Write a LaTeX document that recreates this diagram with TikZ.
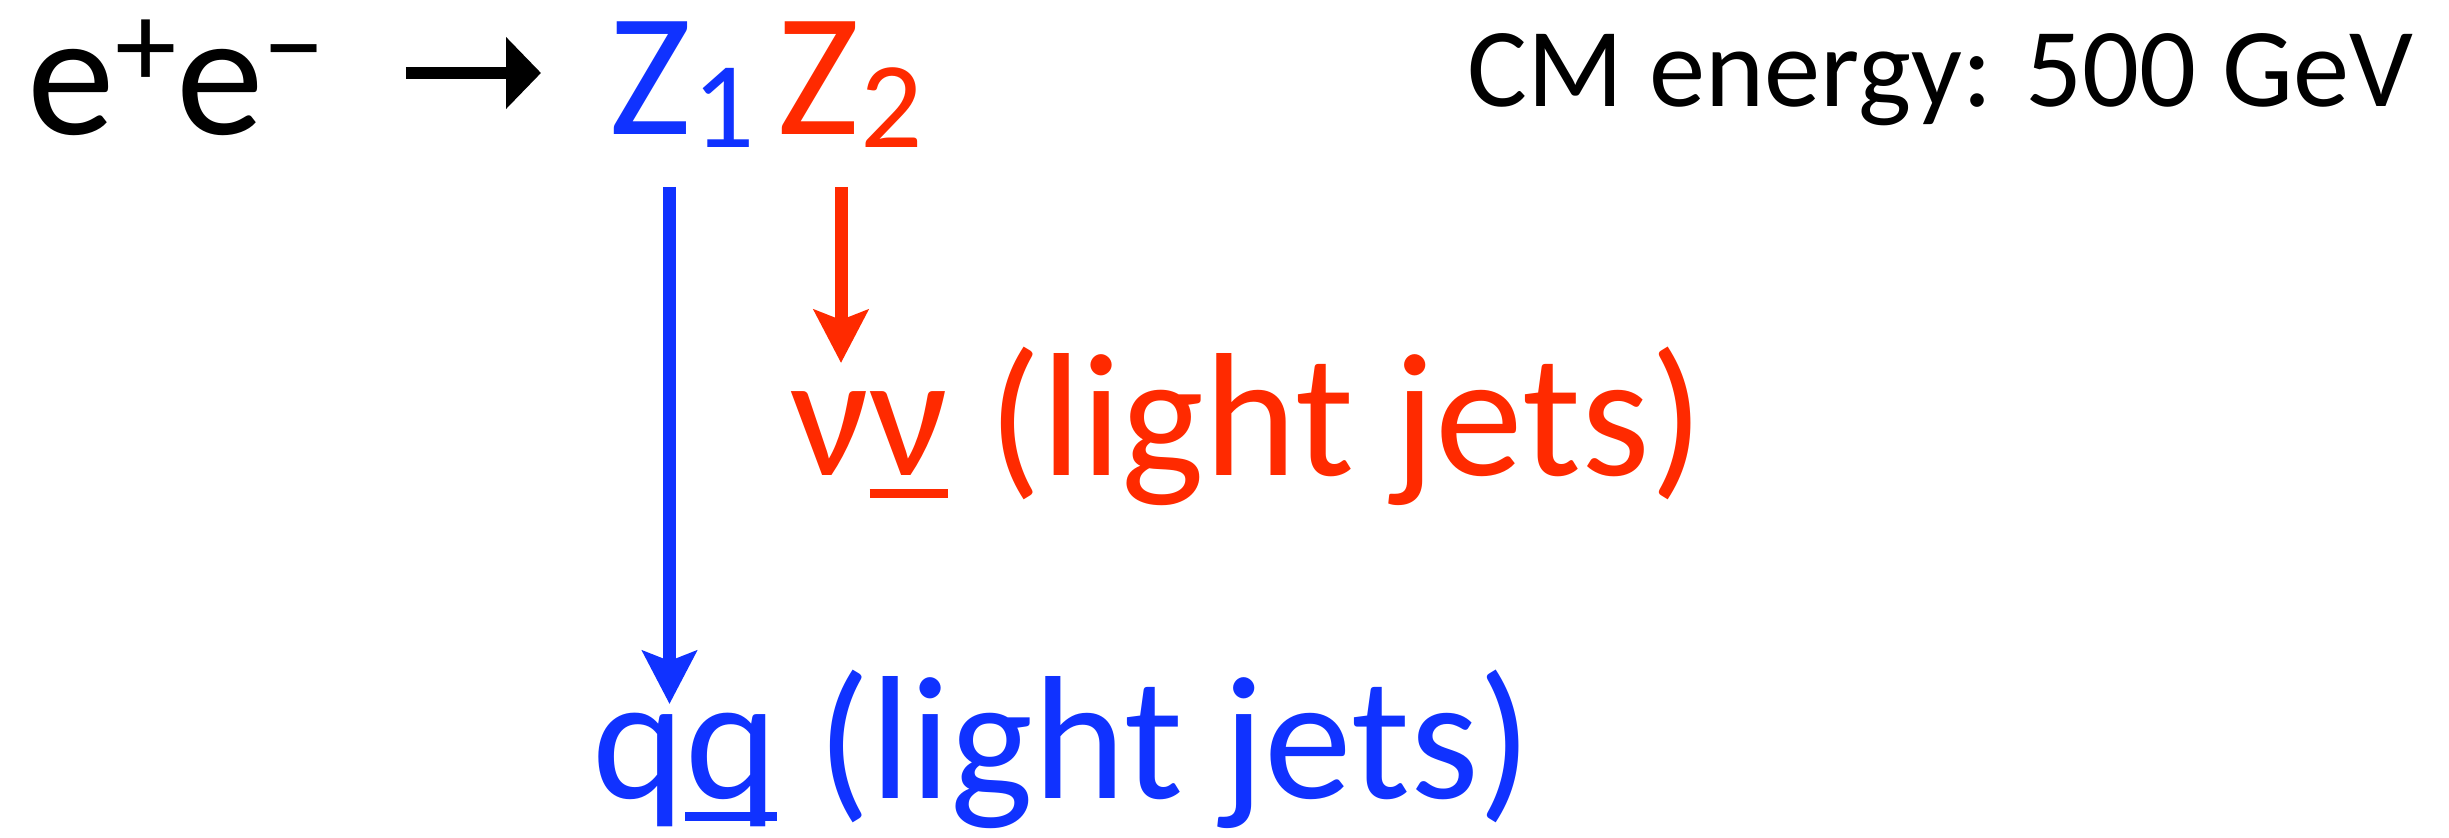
\documentclass[tikz,border=0pt]{standalone}
\usepackage{fontspec}
\setmainfont{Carlito}
\usetikzlibrary{arrows.meta,calc}
\definecolor{zblue}{RGB}{16,50,255}
\definecolor{zred}{RGB}{255,42,0}
\newcommand{\lowidx}[1]{\raisebox{-0.13cm}{\fontsize{35pt}{35pt}\selectfont #1}}
\newcommand{\highidx}[1]{\raisebox{0.47cm}{\fontsize{35pt}{35pt}\selectfont #1}}
\newcommand{\barbelow}[1]{\setbox0\hbox{#1}\rlap{\raisebox{-0.22cm}{\rule{\wd0}{0.09cm}}}\box0\relax}

\begin{document}
\begin{tikzpicture}[big/.style={inner sep=0pt, anchor=base west, font=\fontsize{50pt}{50pt}\selectfont},
  decay/.style={line width=0.13cm, -{Stealth[length=0.53cm, width=0.54cm, inset=0.1cm]}}]
  \useasboundingbox (0,0) rectangle (24.49,8.38);
  \node[big] (ee) at (0.27,7.03) {e\highidx{+}e\highidx{−}};
  \node[big, text=zblue] (zone) at (6.09,7.03) {Z\lowidx{1}};
  \node[big, text=zred] (ztwo) at (7.77,7.03) {Z\lowidx{2}};
  \node[inner sep=0pt, anchor=base west, font=\fontsize{32pt}{32pt}\selectfont] (cm) at (14.67,7.31) {CM energy: 500 GeV};
  \node[big, text=zred] (nunu) at (7.90,3.62) {ν\barbelow{ν} (light jets)};
  \node[big, text=zblue] (qq) at (5.92,0.39) {q\barbelow{q} (light jets)};

  \coordinate (zonefoot) at ([shift={(0.605,-0.52)}]zone.base west);
  \coordinate (ztwofoot) at ([shift={(0.64,-0.52)}]ztwo.base west);
  \coordinate (qqtop) at ([yshift=0.95cm]qq.base);
  \coordinate (nunutop) at ([yshift=1.13cm]nunu.base);

  \draw[line width=0.12cm, -{Triangle[length=0.35cm, width=0.7cm]}, shorten <=0.8cm, shorten >=0.68cm]
    ([yshift=0.62cm]ee.base east) -- ([yshift=0.62cm]zone.base west);
  \draw[decay, zblue] (zonefoot) -- (zonefoot |- qqtop);
  \draw[decay, zred] (ztwofoot) -- (ztwofoot |- nunutop);
\end{tikzpicture}
\end{document}
